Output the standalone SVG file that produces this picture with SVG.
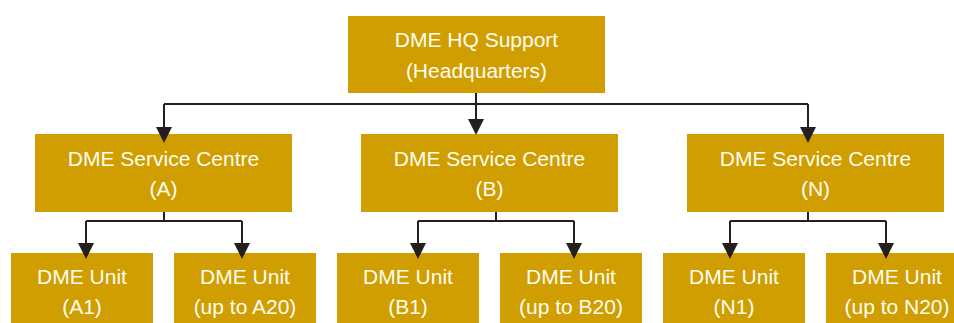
<svg xmlns="http://www.w3.org/2000/svg" xmlns:xlink="http://www.w3.org/1999/xlink" width="954" height="323" viewBox="0 0 954 323">
<style>
.box{fill:#D09E00;}
.t{font-family:"Liberation Sans",Arial,sans-serif;font-size:21px;fill:#FFFDF2;text-anchor:middle;}
.ln{fill:none;stroke:#231F20;stroke-width:2;}
.ah{fill:#231F20;}
</style>
<defs>
<path id="arr" d="M-8,0 L8,0 L0,16 Z"/>
</defs>
<rect width="954" height="323" fill="#FFFFFF"/>
<g id="hq">
<rect class="box" x="348" y="16" width="257" height="77"/>
<text class="t" x="476.5" y="47">DME HQ Support</text>
<text class="t" x="476.5" y="78">(Headquarters)</text>
</g>
<g id="centreA">
<rect class="box" x="35" y="134" width="257" height="78"/>
<text class="t" x="163.5" y="166">DME Service Centre</text>
<text class="t" x="163.5" y="196">(A)</text>
</g>
<g id="centreB">
<rect class="box" x="361" y="134" width="257" height="78"/>
<text class="t" x="489.5" y="166">DME Service Centre</text>
<text class="t" x="489.5" y="196">(B)</text>
</g>
<g id="centreN">
<rect class="box" x="687" y="134" width="257" height="78"/>
<text class="t" x="815.5" y="166">DME Service Centre</text>
<text class="t" x="815.5" y="196">(N)</text>
</g>
<g id="unitA1">
<rect class="box" x="11" y="253" width="142" height="70"/>
<text class="t" x="82" y="284">DME Unit</text>
<text class="t" x="82" y="314">(A1)</text>
</g>
<g id="unitA20">
<rect class="box" x="174" y="253" width="142" height="70"/>
<text class="t" x="245" y="284">DME Unit</text>
<text class="t" x="245" y="314">(up to A20)</text>
</g>
<g id="unitB1">
<rect class="box" x="337" y="253" width="142" height="70"/>
<text class="t" x="408" y="284">DME Unit</text>
<text class="t" x="408" y="314">(B1)</text>
</g>
<g id="unitB20">
<rect class="box" x="500" y="253" width="142" height="70"/>
<text class="t" x="571" y="284">DME Unit</text>
<text class="t" x="571" y="314">(up to B20)</text>
</g>
<g id="unitN1">
<rect class="box" x="663" y="253" width="142" height="70"/>
<text class="t" x="734" y="284">DME Unit</text>
<text class="t" x="734" y="314">(N1)</text>
</g>
<g id="unitN20">
<rect class="box" x="826" y="253" width="142" height="70"/>
<text class="t" x="897" y="284">DME Unit</text>
<text class="t" x="897" y="314">(up to N20)</text>
</g>
<g id="connectors">
<path class="ln" d="M476,93 V104 M164,104 H808 M164,104 V127 M476,104 V120 M808,104 V127"/>
<use xlink:href="#arr" class="ah" x="164" y="127"/>
<use xlink:href="#arr" class="ah" x="476" y="119"/>
<use xlink:href="#arr" class="ah" x="808" y="127"/>
<path class="ln" d="M164,212 V221 M86,221 H242 M86,221 V244 M242,221 V244"/>
<path class="ln" d="M496,212 V221 M418,221 H574 M418,221 V244 M574,221 V244"/>
<path class="ln" d="M808,212 V221 M730,221 H886 M730,221 V244 M886,221 V244"/>
<use xlink:href="#arr" class="ah" x="86" y="243"/>
<use xlink:href="#arr" class="ah" x="242" y="243"/>
<use xlink:href="#arr" class="ah" x="418" y="243"/>
<use xlink:href="#arr" class="ah" x="574" y="243"/>
<use xlink:href="#arr" class="ah" x="730" y="243"/>
<use xlink:href="#arr" class="ah" x="886" y="243"/>
</g>
</svg>
